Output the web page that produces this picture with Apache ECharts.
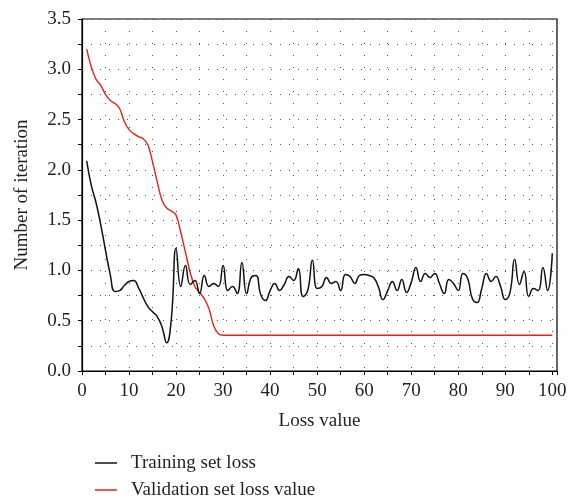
<!DOCTYPE html>
<html>
<head>
<meta charset="utf-8">
<script src="https://cdn.jsdelivr.net/npm/echarts@6/dist/echarts.min.js"></script>
<style>
html,body{margin:0;padding:0;background:#fff;}
#chart{width:581px;height:503px;}
</style>
</head>
<body>
<div id="chart"></div>
<script>
// x positions (iteration index)
var epochs = [1,2,3,4,5,6,7,8,9,10,11,12,13,14,15,16,17,18,19,20,21,22,23,24,25,26,27,28,29,30,31,32,33,34,35,36,37,38,39,40,41,42,43,44,45,46,47,48,49,50,51,52,53,54,55,56,57,58,59,60,61,62,63,64,65,66,67,68,69,70,71,72,73,74,75,76,77,78,79,80,81,82,83,84,85,86,87,88,89,90,91,92,93,94,95,96,97,98,99,100];

var trainingLoss = [
  2.09,1.84,1.67,1.45,1.20,0.96,0.79,0.80,0.85,0.89,
  0.90,0.83,0.73,0.64,0.59,0.54,0.44,0.28,0.52,1.22,
  0.84,1.05,0.86,0.90,0.77,0.95,0.84,0.87,0.84,1.05,
  0.80,0.84,0.77,1.08,0.77,0.93,0.95,0.76,0.70,0.80,
  0.87,0.80,0.86,0.94,0.90,1.02,0.74,0.80,1.10,0.82,
  0.84,0.93,0.87,0.89,0.80,0.96,0.94,0.87,0.95,0.96,
  0.95,0.93,0.84,0.71,0.80,0.89,0.80,0.91,0.78,0.88,
  1.03,0.89,0.97,0.93,0.97,0.87,0.77,0.91,0.87,0.80,
  0.97,0.92,0.72,0.68,0.82,0.97,0.89,0.94,0.84,0.71,
  0.78,1.11,0.86,0.99,0.74,0.82,0.80,1.03,0.80,1.17
];

var validationLoss = [
  3.20,3.02,2.90,2.84,2.75,2.69,2.66,2.61,2.48,2.40,
  2.36,2.33,2.31,2.25,2.08,1.88,1.70,1.62,1.59,1.55,
  1.38,1.18,0.98,0.84,0.78,0.72,0.62,0.45,0.37,0.355,
  0.355,0.355,0.355,0.355,0.355,0.355,0.355,0.355,0.355,0.355,
  0.355,0.355,0.355,0.355,0.355,0.355,0.355,0.355,0.355,0.355,
  0.355,0.355,0.355,0.355,0.355,0.355,0.355,0.355,0.355,0.355,
  0.355,0.355,0.355,0.355,0.355,0.355,0.355,0.355,0.355,0.355,
  0.355,0.355,0.355,0.355,0.355,0.355,0.355,0.355,0.355,0.355,
  0.355,0.355,0.355,0.355,0.355,0.355,0.355,0.355,0.355,0.355,
  0.355,0.355,0.355,0.355,0.355,0.355,0.355,0.355,0.355,0.355
];

var xTickLabels = [0,10,20,30,40,50,60,70,80,90,100];
var yTickLabels = ['0.0','0.5','1.0','1.5','2.0','2.5','3.0','3.5'];
var seriesNames = ['Training set loss','Validation set loss value'];

var FONT = '"Liberation Serif", "DejaVu Serif", serif';
var TXT = '#231f20';
var FS = 19;

function pairs(xs, ys){ return xs.map(function(x,i){ return [x, ys[i]]; }); }

var chart = echarts.init(document.getElementById('chart'), null, {renderer:'canvas'});
chart.setOption({
  animation:false,
  backgroundColor:'#fff',
  textStyle:{fontFamily:FONT, color:TXT},
  grid:{left:82, top:19, right:24, bottom:132, show:true, borderColor:'#000', borderWidth:1.2, backgroundColor:'transparent'},
  legend:{
    orient:'vertical', left:95, top:453, padding:0, height:60,
    icon:'rect', itemWidth:22, itemHeight:1.5, itemGap:7,
    data:[{name:seriesNames[0]},{name:seriesNames[1]}],
    textStyle:{fontFamily:FONT, fontSize:FS, color:TXT, lineHeight:20, padding:[0,0,0,9]}
  },
  xAxis:{
    type:'value', min:0, max:101, interval:5,
    name:'Loss value', nameLocation:'middle', nameGap:41,
    nameTextStyle:{fontFamily:FONT, fontSize:FS, color:TXT},
    axisLine:{show:true, lineStyle:{color:'#000', width:1.2}},
    axisTick:{show:true, inside:false, length:4, lineStyle:{color:'#000'}},
    axisLabel:{fontFamily:FONT, fontSize:FS, color:TXT, margin:11,
      formatter:function(v){ return xTickLabels.indexOf(v) >= 0 ? String(v) : ''; }},
    splitLine:{show:true, lineStyle:{color:'#555', width:1, type:[1,11]}}
  },
  yAxis:{
    type:'value', min:0, max:3.5, interval:0.25,
    name:'Number of iteration', nameLocation:'middle', nameGap:50, nameRotate:90,
    nameTextStyle:{fontFamily:FONT, fontSize:FS, color:TXT},
    axisLine:{show:true, lineStyle:{color:'#000', width:1.2}},
    axisTick:{show:true, inside:false, length:4, lineStyle:{color:'#000'}},
    axisLabel:{fontFamily:FONT, fontSize:FS, color:TXT, margin:11,
      formatter:function(v){ var s = v.toFixed(1); return (Math.abs(v*2 - Math.round(v*2)) < 1e-6 && yTickLabels.indexOf(s) >= 0) ? s : ''; }},
    splitLine:{show:true, lineStyle:{color:'#555', width:1, type:[1,8]}}
  },
  series:[
    {name:seriesNames[0], type:'line', data:pairs(epochs, trainingLoss), smooth:0.5, symbol:'none',
     lineStyle:{color:'#111', width:1.5}, itemStyle:{color:'#111'}, z:3},
    {name:seriesNames[1], type:'line', data:pairs(epochs, validationLoss), smooth:0.4, symbol:'none',
     lineStyle:{color:'#e2231a', width:1.4}, itemStyle:{color:'#e2231a'}, z:2}
  ]
});
</script>
</body>
</html>
